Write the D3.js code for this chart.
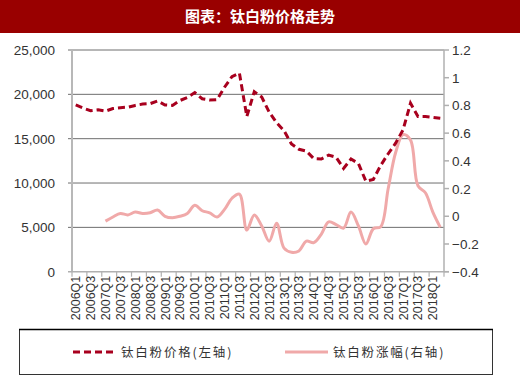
<!DOCTYPE html>
<html><head><meta charset="utf-8">
<script src="https://cdn.jsdelivr.net/npm/d3@7"></script>
<style>body{margin:0;background:#fff}svg{display:block}</style>
</head><body>
<script>
const title = "图表：钛白粉价格走势";
const quarters = [];
for (let y = 2006; y <= 2018; y++) for (let q = 1; q <= 4; q++) { if (y === 2018 && q > 2) break; quarters.push(y + "Q" + q); }
const priceName = "钛白粉价格(左轴)";
const changeName = "钛白粉涨幅(右轴)";
const price = [18800,18450,18150,18250,18100,18400,18500,18550,18750,18900,18950,19250,18800,18750,19300,19650,
  20200,19500,19350,19400,20800,22000,22400,17500,20300,19700,18000,16800,15900,14400,13800,13600,
  12750,12700,13150,12900,11650,12700,12200,10200,10400,12000,13300,14500,16000,19000,17500,17500,17400,17300];
const change = [null,null,null,null,-0.035,-0.005,0.02,0.01,0.03,0.02,0.025,0.045,0.0,-0.01,0.0,0.02,
  0.08,0.04,0.025,-0.005,0.05,0.13,0.16,-0.10,0.01,-0.07,-0.18,-0.05,-0.23,-0.26,-0.25,-0.18,
  -0.19,-0.13,-0.04,-0.06,-0.085,0.03,-0.07,-0.20,-0.09,-0.075,0.20,0.46,0.59,0.55,0.22,0.17,0.03,-0.08];
const leftTicks = [0,5000,10000,15000,20000,25000];
const rightTicks = [-0.4,-0.2,0,0.2,0.4,0.6,0.8,1,1.2];

const W = 520, H = 378;
const svg = d3.select("body").append("svg").attr("width", W).attr("height", H);
const L = 72, R = 444, T = 50, B = 271.7;

svg.append("rect").attr("x",0).attr("y",0).attr("width",W).attr("height",33).attr("fill","#990000");
svg.append("text").attr("x",W/2).attr("y",22).attr("text-anchor","middle").attr("fill","#fff")
  .attr("font-family","'Noto Sans CJK SC'").attr("font-weight","bold").attr("font-size",15).text(title);

const x = d3.scaleBand().domain(quarters).range([L,R]).padding(0);
const yL = d3.scaleLinear().domain([0,25000]).range([B,T]);
const yR = d3.scaleLinear().domain([-0.4,1.2]).range([B,T]);
const font = "'Liberation Sans', Arial, sans-serif";

// gridlines
svg.append("g").selectAll("line").data(leftTicks.filter(d=>d>0)).join("line")
  .attr("x1",L-4).attr("x2",R).attr("y1",d=>yL(d)).attr("y2",d=>yL(d))
  .attr("stroke","#6e6e6e").attr("stroke-width",1);

// left axis
svg.append("line").attr("x1",L).attr("x2",L).attr("y1",T).attr("y2",B).attr("stroke","#b8b8b8").attr("stroke-width",2);
svg.append("g").selectAll("text").data(leftTicks).join("text")
  .attr("x",55).attr("y",d=>yL(d)+5).attr("text-anchor","end").attr("font-family",font)
  .attr("font-size",13.5).attr("fill","#333").text(d=>d3.format(",")(d));

// right axis
svg.append("line").attr("x1",R).attr("x2",R).attr("y1",T).attr("y2",B).attr("stroke","#b0b0b0").attr("stroke-width",1.5);
svg.append("g").selectAll("line").data(rightTicks).join("line")
  .attr("x1",R).attr("x2",R+5).attr("y1",d=>yR(d)).attr("y2",d=>yR(d)).attr("stroke","#b0b0b0").attr("stroke-width",1.5);
svg.append("g").selectAll("text").data(rightTicks).join("text")
  .attr("x",452).attr("y",d=>yR(d)+5).attr("font-family",font)
  .attr("font-size",13.5).attr("fill","#333").text(d=>d3.format("")(+d.toFixed(1)));

// bottom axis
svg.append("line").attr("x1",L-4).attr("x2",R+5).attr("y1",B).attr("y2",B).attr("stroke","#b0b0b0").attr("stroke-width",1.5);
const bw = x.bandwidth();
const tickIdx = d3.range(0, quarters.length+1, 2);
svg.append("g").selectAll("line").data(tickIdx).join("line")
  .attr("x1",i=>L+i*bw).attr("x2",i=>L+i*bw).attr("y1",B).attr("y2",B+5).attr("stroke","#b0b0b0").attr("stroke-width",1.2);
svg.append("g").selectAll("text").data(quarters.filter((d,i)=>i%2===0)).join("text")
  .attr("transform",d=>`translate(${x(d)+bw/2+4.5},${B+4}) rotate(-90)`)
  .attr("text-anchor","end").attr("font-family",font).attr("font-size",12.5).attr("fill","#333").text(d=>d);

// lines
const cx = d => x(d) + bw/2;
const changeData = quarters.map((q,i)=>({q, v: change[i]})).filter(d=>d.v!==null);
svg.append("path").datum(changeData)
  .attr("d", d3.line().x(d=>cx(d.q)).y(d=>yR(d.v)).curve(d3.curveCatmullRom.alpha(0.5)))
  .attr("fill","none").attr("stroke","#f0a9a9").attr("stroke-width",3).attr("stroke-linejoin","round");
const priceData = quarters.map((q,i)=>({q, v: price[i]}));
svg.append("path").datum(priceData)
  .attr("d", d3.line().x(d=>cx(d.q)).y(d=>yL(d.v)))
  .attr("fill","none").attr("stroke","#a8001e").attr("stroke-width",3).attr("stroke-dasharray","7,4");

// legend
svg.append("rect").attr("x",19.5).attr("y",329.5).attr("width",473).attr("height",45)
  .attr("fill","none").attr("stroke","#333").attr("stroke-width",1);
svg.append("line").attr("x1",19).attr("x2",493).attr("y1",329.5).attr("y2",329.5).attr("stroke","#000").attr("stroke-width",1.5);
svg.append("line").attr("x1",73).attr("x2",116).attr("y1",352).attr("y2",352)
  .attr("stroke","#a8001e").attr("stroke-width",3).attr("stroke-dasharray","7,4");
svg.append("text").attr("x",121).attr("y",357).attr("font-family","'Noto Sans CJK SC'").attr("font-size",12.5)
  .attr("letter-spacing",1.8).attr("fill","#333").text(priceName);
svg.append("line").attr("x1",285).attr("x2",328).attr("y1",352).attr("y2",352)
  .attr("stroke","#f0a9a9").attr("stroke-width",3);
svg.append("text").attr("x",333).attr("y",357).attr("font-family","'Noto Sans CJK SC'").attr("font-size",12.5)
  .attr("letter-spacing",1.8).attr("fill","#333").text(changeName);
</script>
</body></html>
